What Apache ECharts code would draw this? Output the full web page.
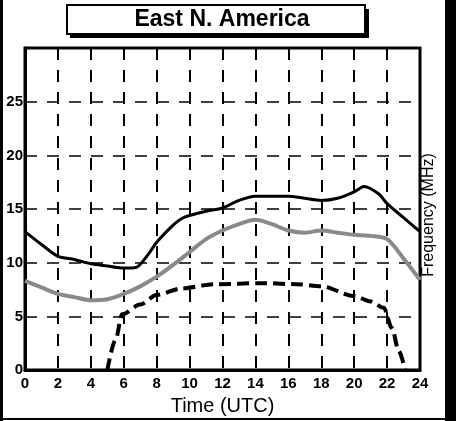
<!DOCTYPE html>
<html>
<head>
<meta charset="utf-8">
<script src="https://cdn.jsdelivr.net/npm/echarts@6/dist/echarts.min.js"></script>
<style>
  html, body { margin: 0; padding: 0; background: #fff; }
  #chart { width: 456px; height: 421px; }
</style>
</head>
<body>
<div id="chart"></div>
<script>
// upper solid curve
var upperHours = [0, 1, 2, 3, 4, 5, 6, 6.8, 7.5, 8, 9, 9.5, 10, 11, 12, 13, 14, 15, 16, 17, 18, 19, 20, 20.6, 21.5, 22, 23, 24];
var upperValues = [12.9, 11.7, 10.6, 10.3, 9.9, 9.7, 9.5, 9.6, 10.8, 11.9, 13.5, 14.1, 14.4, 14.8, 15.1, 15.8, 16.2, 16.2, 16.2, 16.0, 15.8, 16.0, 16.6, 17.1, 16.4, 15.5, 14.2, 12.9];

// grey middle curve
var middleHours = [0, 1, 2, 3, 4, 5, 6, 7, 8, 9, 10, 11, 12, 13, 14, 15, 16, 17, 18, 19, 20, 21, 22, 23, 24];
var middleValues = [8.3, 7.7, 7.1, 6.8, 6.5, 6.6, 7.1, 7.8, 8.7, 9.8, 11.0, 12.2, 13.0, 13.6, 14.0, 13.6, 13.0, 12.8, 13.0, 12.8, 12.6, 12.5, 12.2, 10.4, 8.4];

// lower dashed curve
var lowerHours = [5, 5.5, 5.9, 7, 8, 9.5, 11.5, 14.5, 16.5, 18, 20, 21, 21.8, 22.3, 22.7, 23.1];
var lowerValues = [0, 2.8, 5.2, 6.1, 7.0, 7.6, 8.0, 8.1, 8.0, 7.8, 6.9, 6.4, 5.8, 3.9, 1.8, 0];

function pairs(xs, ys) {
    return xs.map(function (x, i) { return [x, ys[i]]; });
}

var font = "'Liberation Sans', Arial, Helvetica, sans-serif";
var chart = echarts.init(document.getElementById("chart"));

chart.setOption({
    animation: false,
    grid: {
        left: 25, right: 36, top: 48, bottom: 48,
        show: true,
        borderColor: "#000",
        borderWidth: 3
    },
    xAxis: {
        type: "value",
        min: 0, max: 24, interval: 2,
        name: "Time (UTC)",
        nameLocation: "middle",
        nameGap: 24,
        nameTextStyle: { fontFamily: font, fontSize: 20, color: "#000" },
        axisLine: { lineStyle: { color: "#000", width: 3 } },
        axisTick: { show: false },
        axisLabel: { fontFamily: font, fontSize: 15, fontWeight: "bold", color: "#000", margin: 6 },
        splitLine: { lineStyle: { color: "#000", width: 2, type: [12, 10] } }
    },
    yAxis: {
        type: "value",
        min: 0, max: 30, interval: 5,
        axisLine: { show: true, lineStyle: { color: "#000", width: 3 } },
        axisTick: { show: false },
        axisLabel: { fontFamily: font, fontSize: 15, fontWeight: "bold", color: "#000", margin: 2, showMaxLabel: false },
        splitLine: { lineStyle: { color: "#000", width: 1.5, type: [12, 10] } }
    },
    series: [
        {
            type: "line",
            data: pairs(middleHours, middleValues),
            smooth: 0.3,
            symbol: "none",
            lineStyle: { color: "#8a8a8a", width: 4 }
        },
        {
            type: "line",
            data: pairs(upperHours, upperValues),
            smooth: 0.25,
            symbol: "none",
            lineStyle: { color: "#000", width: 3 }
        },
        {
            type: "line",
            data: pairs(lowerHours, lowerValues),
            smooth: 0.3,
            smoothMonotone: "x",
            symbol: "none",
            lineStyle: { color: "#000", width: 4, type: [12, 6] }
        }
    ],
    graphic: [
        // title box with hard shadow
        { type: "rect", shape: { x: 70, y: 9, width: 299, height: 29 }, style: { fill: "#000" } },
        { type: "rect", shape: { x: 67, y: 5, width: 298, height: 29 }, style: { fill: "#fff", stroke: "#000", lineWidth: 2 } },
        { type: "text", x: 222, y: 20, style: { text: "East N. America", font: "bold 23px " + font, fill: "#000", align: "center", verticalAlign: "middle" } },
        // right axis caption
        { type: "text", x: 429, y: 215, rotation: Math.PI / 2, style: { text: "Frequency (MHz)", font: "16px " + font, fill: "#000", align: "center", verticalAlign: "middle" } },
        // scan edges
        { type: "rect", shape: { x: 0, y: 0, width: 3, height: 421 }, style: { fill: "#000" } },
        { type: "rect", shape: { x: 445, y: 0, width: 11, height: 421 }, style: { fill: "#000" } },
        { type: "rect", shape: { x: 0, y: 418, width: 445, height: 2 }, style: { fill: "#000" } }
    ]
});
</script>
</body>
</html>
